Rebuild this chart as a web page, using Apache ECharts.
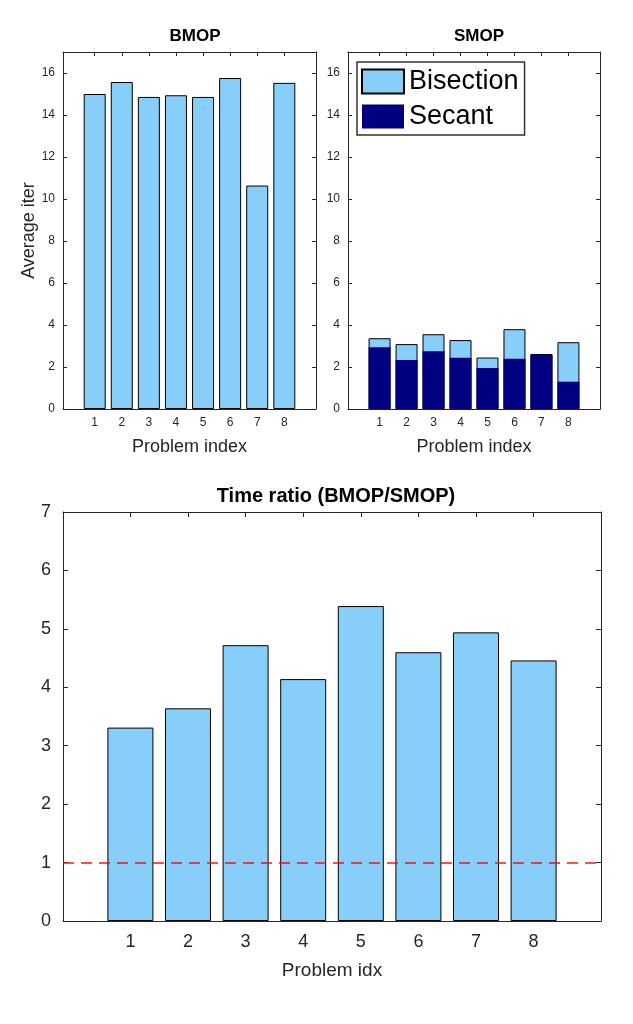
<!DOCTYPE html>
<html>
<head>
<meta charset="utf-8">
<script src="https://cdn.jsdelivr.net/npm/echarts@6/dist/echarts.min.js"></script>
<style>html,body{margin:0;padding:0;background:#fff}#c{width:633px;height:1024px}</style>
</head>
<body>
<div id="c"></div>
<script>
const categories = [1, 2, 3, 4, 5, 6, 7, 8];
const bmopIter = [15.0, 15.57, 14.86, 14.94, 14.86, 15.76, 10.64, 15.53];
const smopBisection = [3.37, 3.09, 3.56, 3.28, 2.45, 3.80, 2.62, 3.18];
const smopSecant = [2.94, 2.33, 2.75, 2.44, 1.95, 2.39, 2.58, 1.30];
const timeRatio = [3.31, 3.64, 4.72, 4.14, 5.39, 4.60, 4.94, 4.46];
const refLine = 1;
const topYMax = 17, topYStep = 2;
const botYMax = 7, botYStep = 1;
const xMin = -0.17, xMax = 9.17;

const AX = '#262626';
const FONT = '"Liberation Sans", Arial, sans-serif';
const pair = (xs, ys) => xs.map((x, i) => [x, ys[i]]);

const grids = [
  {left: 63, top: 52, width: 253, height: 357},
  {left: 348, top: 52, width: 252, height: 357},
  {left: 63, top: 512, width: 538, height: 409}
];

const xAxes = [], yAxes = [];
function addAxes(g, ymax, ystep, fs, tickLen, xname, xnameFs, xnameGap, yname, labMarginX, labMarginY) {
  const common = {gridIndex: g, axisLine: {show: true, onZero: false, lineStyle: {color: AX, width: 1}}, splitLine: {show: false}};
  xAxes.push(Object.assign({}, common, {
    type: 'value', position: 'bottom', min: xMin, max: xMax,
    axisTick: {show: true, inside: true, length: tickLen, lineStyle: {color: AX}, customValues: categories},
    axisLabel: {show: true, color: AX, fontSize: fs, fontFamily: FONT, margin: labMarginX, customValues: categories},
    name: xname, nameLocation: 'middle', nameGap: xnameGap,
    nameTextStyle: {color: AX, fontSize: xnameFs, fontFamily: FONT}
  }));
  xAxes.push(Object.assign({}, common, {
    type: 'value', position: 'top', min: xMin, max: xMax,
    axisTick: {show: true, inside: true, length: tickLen, lineStyle: {color: AX}, customValues: categories},
    axisLabel: {show: false, customValues: categories}
  }));
  yAxes.push(Object.assign({}, common, {
    type: 'value', position: 'left', min: 0, max: ymax, interval: ystep,
    axisTick: {show: true, inside: true, length: tickLen, lineStyle: {color: AX}},
    axisLabel: {show: true, color: AX, fontSize: fs, fontFamily: FONT, margin: labMarginY, showMaxLabel: ymax % ystep === 0},
    name: yname, nameLocation: 'middle', nameGap: 24, nameRotate: 90,
    nameTextStyle: {color: AX, fontSize: 18, fontFamily: FONT}
  }));
  yAxes.push(Object.assign({}, common, {
    type: 'value', position: 'right', min: 0, max: ymax, interval: ystep,
    axisTick: {show: true, inside: true, length: tickLen, lineStyle: {color: AX}},
    axisLabel: {show: false}
  }));
}
addAxes(0, topYMax, topYStep, 12, 4, 'Problem index', 18, 29, 'Average iter', 8, 8);
addAxes(1, topYMax, topYStep, 12, 4, 'Problem index', 18, 29, '', 8, 8);
addAxes(2, botYMax, botYStep, 18, 5, 'Problem idx', 19, 40, '', 12, 12);

const LB = '#87CEFA', NAVY = '#000080';
const option = {
  animation: false,
  backgroundColor: '#fff',
  title: [
    {text: 'BMOP', left: 190, top: 23, textAlign: 'center', textStyle: {fontSize: 17, fontWeight: 'bold', color: '#000', fontFamily: FONT}},
    {text: 'SMOP', left: 474, top: 23, textAlign: 'center', textStyle: {fontSize: 17, fontWeight: 'bold', color: '#000', fontFamily: FONT}},
    {text: 'Time ratio (BMOP/SMOP)', left: 331, top: 481, textAlign: 'center', textStyle: {fontSize: 20, fontWeight: 'bold', color: '#000', fontFamily: FONT}}
  ],
  legend: {
    data: ['Bisection', 'Secant'], orient: 'vertical', left: 357, top: 62,
    icon: 'rect', itemWidth: 42, itemHeight: 24, itemGap: 8,
    padding: [6, 6, 5, 4],
    borderColor: '#333', borderWidth: 1.5,
    textStyle: {fontSize: 27, lineHeight: 24, color: '#000', fontFamily: FONT}
  },
  grid: grids,
  xAxis: xAxes,
  yAxis: yAxes,
  series: [
    {name: 'BMOP', type: 'bar', xAxisIndex: 0, yAxisIndex: 0, barWidth: 22,
     data: pair(categories, bmopIter),
     itemStyle: {color: LB, borderColor: '#000', borderWidth: 1}},
    {name: 'Bisection', type: 'bar', xAxisIndex: 2, yAxisIndex: 2, barWidth: 22, barGap: '-100%',
     data: pair(categories, smopBisection),
     itemStyle: {color: LB, borderColor: '#000', borderWidth: 1}},
    {name: 'Secant', type: 'bar', xAxisIndex: 2, yAxisIndex: 2, barWidth: 22, barGap: '-100%',
     data: pair(categories, smopSecant),
     itemStyle: {color: NAVY, borderWidth: 0}},
    {name: 'Ratio', type: 'bar', xAxisIndex: 4, yAxisIndex: 4, barWidth: 46,
     data: pair(categories, timeRatio),
     itemStyle: {color: LB, borderColor: '#000', borderWidth: 1},
     markLine: {silent: true, symbol: ['none', 'none'], label: {show: false},
       lineStyle: {color: 'rgba(255,0,0,0.7)', width: 2, type: [11, 7]},
       data: [{yAxis: refLine}]}}
  ]
};
echarts.init(document.getElementById('c'), null, {renderer: 'canvas'}).setOption(option);
</script>
</body>
</html>
